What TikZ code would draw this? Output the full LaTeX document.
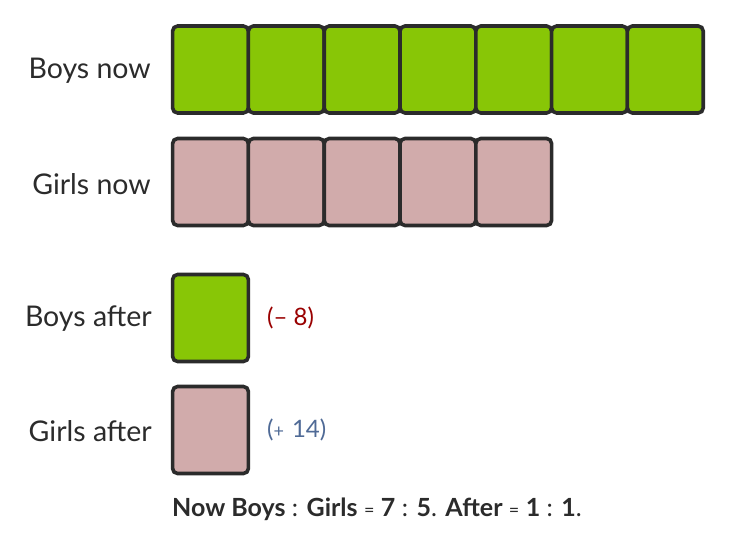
\documentclass[tikz,border=0pt]{standalone}
\usepackage{fontspec}
\setmainfont{Lato}
\definecolor{boxgreen}{HTML}{88C606}
\definecolor{boxpink}{HTML}{D1ABAB}
\definecolor{edgedark}{HTML}{2B2B2B}
\definecolor{minusred}{HTML}{990000}
\definecolor{plusblue}{HTML}{4F6A96}
\definecolor{txt}{HTML}{2B2B2B}
\tikzset{
  unitbox/.style={draw=edgedark, line width=3.6pt, rounded corners=5pt, minimum width=75.8pt, minimum height=87pt, inner sep=0pt, outer sep=0pt},
  gbox/.style={unitbox, fill=boxgreen},
  pbox/.style={unitbox, fill=boxpink},
  rowlabel/.style={anchor=east, font=\fontsize{28.5}{32}\selectfont, text=txt, inner sep=0pt},
  changelabel/.style={anchor=west, font=\fontsize{24}{28}\selectfont, inner sep=0pt},
}
\begin{document}
\begin{tikzpicture}[x=1pt,y=-1pt]
\useasboundingbox (0,0) rectangle (730,549);
\foreach \i in {0,...,6} {
  \node[gbox] (bn\i) at ({210.5+75.8*\i},69.5) {};
}
\foreach \i in {0,...,4} {
  \node[pbox] (gn\i) at ({210.5+75.8*\i},182) {};
}
\node[gbox] (ba) at (210.5,318) {};
\node[pbox] (ga) at (210.5,430) {};
\node[rowlabel] (lbn) at (151,71) {Boys now};
\node[rowlabel] (lgn) at (151,184) {Girls now};
\node[rowlabel] (lba) at (152,319) {Boys after};
\node[rowlabel] (lga) at (152,431) {Girls after};
\node[changelabel, text=minusred] (cm) at (267,318) {(– 8)};
\node[changelabel, text=plusblue] (cp) at (267,430) {({\fontsize{18}{22}\selectfont+}\,\,14)};
\node[anchor=west, inner sep=0pt, text=txt, font=\fontsize{25}{29}\selectfont] (summary) at (172,509)
  {\textbf{Now Boys} : \textbf{Girls} {\fontsize{18}{22}\selectfont=} \textbf{7} : \textbf{5}. \textbf{After} {\fontsize{18}{22}\selectfont=} \textbf{1} : \textbf{1}.};
\end{tikzpicture}
\end{document}
